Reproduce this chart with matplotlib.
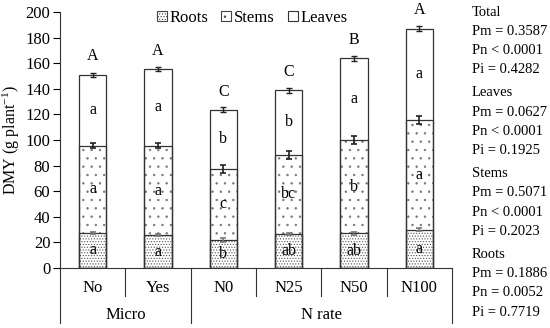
import matplotlib
matplotlib.use("Agg")
import matplotlib.pyplot as plt
from matplotlib.patches import Patch
import numpy as np

plt.rcParams['font.family'] = ['Liberation Serif', 'DejaVu Serif']
plt.rcParams['mathtext.fontset'] = 'custom'
plt.rcParams['mathtext.rm'] = 'Liberation Serif'
plt.rcParams['mathtext.it'] = 'Liberation Serif:italic'
plt.rcParams['mathtext.default'] = 'rm'
plt.rcParams['hatch.linewidth'] = 0.5

categories = ["No", "Yes", "N0", "N25", "N50", "N100"]
groups = ["Micro", "N rate"]
group_sizes = [2, 4]
roots = [27.5, 25.5, 22.0, 26.5, 27.0, 30.0]
stems = [68.0, 70.0, 55.5, 62.0, 73.0, 85.5]
leaves = [55.5, 60.0, 46.0, 50.5, 64.0, 71.5]
roots_err = [0.8, 0.8, 1.3, 0.9, 0.9, 1.0]
stems_err = [2.0, 2.0, 3.0, 3.0, 3.0, 3.0]
total_err = [1.5, 1.5, 2.0, 2.0, 2.0, 2.0]
roots_let = ["a", "a", "b", "ab", "ab", "a"]
stems_let = ["a", "a", "c", "bc", "b", "a"]
leaves_let = ["a", "a", "b", "b", "a", "a"]
total_let = ["A", "A", "C", "C", "B", "A"]
yticks = [0, 20, 40, 60, 80, 100, 120, 140, 160, 180, 200]
stats = [
    ("Total", ["Pm = 0.3587", "Pn < 0.0001", "Pi = 0.4282"]),
    ("Leaves", ["Pm = 0.0627", "Pn < 0.0001", "Pi = 0.1925"]),
    ("Stems", ["Pm = 0.5071", "Pn < 0.0001", "Pi = 0.2023"]),
    ("Roots", ["Pm = 0.1886", "Pn = 0.0052", "Pi = 0.7719"]),
]

fs = 11.5
fig = plt.figure(figsize=(5.5, 3.28), dpi=100)
ax = fig.add_axes([60/550, 1-268/328, 392/550, 256/328])

x = np.arange(len(categories))
roots_a = np.array(roots)
stems_a = np.array(stems)
leaves_a = np.array(leaves)
st_top = roots_a + stems_a
tot = st_top + leaves_a
w = 0.42
ec = '#333333'
ax.bar(x, roots_a, w, color='white', edgecolor='#555555', hatch='......', linewidth=0)
ax.bar(x, stems_a, w, bottom=roots_a, color='white', edgecolor='#777777', hatch='..', linewidth=0)
ax.bar(x, leaves_a, w, bottom=st_top, color='white', edgecolor=ec, linewidth=0)
ax.bar(x, tot, w, color='none', edgecolor=ec, linewidth=0.9)
ax.bar(x, st_top, w, color='none', edgecolor=ec, linewidth=0.9)
ax.bar(x, roots_a, w, color='none', edgecolor=ec, linewidth=0.9)

ax.errorbar(x, roots_a, yerr=roots_err, fmt='none', ecolor='#777777', capsize=2.5, elinewidth=1.2, capthick=1.2)
ax.errorbar(x, st_top, yerr=stems_err, fmt='none', ecolor='#222222', capsize=2.5, elinewidth=1.2, capthick=1.2)
ax.errorbar(x, tot, yerr=total_err, fmt='none', ecolor='#222222', capsize=2.5, elinewidth=1.0, capthick=1.0)

for xi in x:
    ax.text(xi, roots_a[xi]/2, roots_let[xi], ha='center', va='center', fontsize=fs)
    ax.text(xi, roots_a[xi] + stems_a[xi]/2, stems_let[xi], ha='center', va='center', fontsize=fs)
    ax.text(xi, st_top[xi] + leaves_a[xi]/2, leaves_let[xi], ha='center', va='center', fontsize=fs)
    ax.text(xi, tot[xi] + 8, total_let[xi], ha='center', va='bottom', fontsize=fs)

ax.set_xlim(-0.5, len(categories) - 0.5)
ax.set_ylim(0, 200)
ax.set_yticks(yticks)
ax.tick_params(axis='y', labelsize=12, direction='out', length=5, width=0.8, pad=2)
ax.set_xticks([])
for sp in ['top', 'right']:
    ax.spines[sp].set_visible(False)
ax.spines['left'].set_color(ec)
ax.spines['bottom'].set_color(ec)
ax.set_ylabel('DMY (g plant$^{-1}$)', fontsize=11.5, labelpad=2)

# hierarchical x-axis labels
n = len(categories)
trans = ax.get_xaxis_transform()
for i, c in enumerate(categories):
    ax.text(i, -0.078, c, transform=trans, ha='center', va='center', fontsize=12)
bounds = np.cumsum([0] + group_sizes)
for i in range(n + 1):
    long = i in bounds
    ax.plot([i - 0.5, i - 0.5], [0, -0.215 if long else -0.11], transform=trans,
            color=ec, lw=0.8, clip_on=False)
for g, s0, s1 in zip(groups, bounds[:-1], bounds[1:]):
    ax.text((s0 + s1 - 1) / 2, -0.185, g, transform=trans, ha='center', va='center', fontsize=12)

handles = [
    Patch(facecolor='white', edgecolor='#444444', hatch='......', linewidth=0.8, label='Roots'),
    Patch(facecolor='white', edgecolor='#444444', hatch='..', linewidth=0.8, label='Stems'),
    Patch(facecolor='white', edgecolor='#333333', linewidth=0.8, label='Leaves'),
]
leg = ax.legend(handles=handles, loc='upper center', bbox_to_anchor=(0.49, 1.035), ncol=3, frameon=False,
                fontsize=12, handlelength=0.6, handleheight=0.6, handletextpad=0.15,
                columnspacing=0.8, borderaxespad=0)

# stats text on the right
y0 = 1 - 12/328
lh = 19.2/328
yy = y0
for title, lines in stats:
    fig.text(472/550, yy, title, ha='left', va='center', fontsize=10.5)
    yy -= lh
    for ln in lines:
        fig.text(472/550, yy, ln, ha='left', va='center', fontsize=10.5)
        yy -= lh
    yy -= 4/328

fig.savefig('out.png', dpi=100)
